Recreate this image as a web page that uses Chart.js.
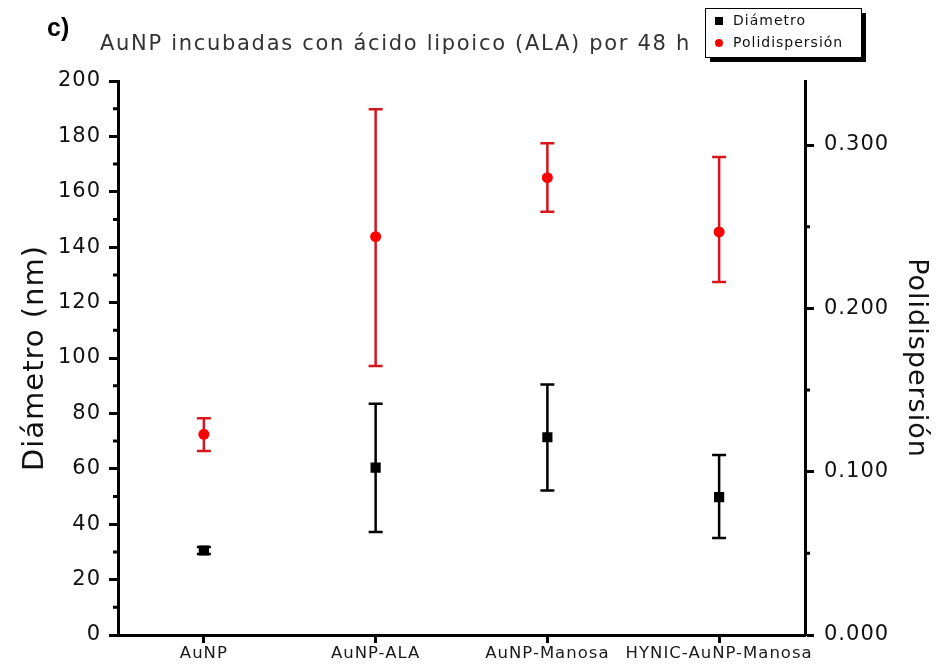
<!DOCTYPE html>
<html><head><meta charset="utf-8">
<script src="https://cdn.jsdelivr.net/npm/chart.js@4/dist/chart.umd.min.js"></script>
<style>html,body{margin:0;padding:0;background:#fff}#wrap{width:936px;height:665px;position:relative}</style>
</head><body><div id="wrap"><canvas id="c" width="936" height="665"></canvas></div>
<script>
const categories = ['AuNP', 'AuNP-ALA', 'AuNP-Manosa', 'HYNIC-AuNP-Manosa'];
const diamMean = [30.5, 60.4, 71.4, 49.8];
const diamLow  = [29.2, 37.2, 52.2, 35.0];
const diamHigh = [31.8, 83.5, 90.4, 65.0];
const polyMean = [0.1229, 0.2439, 0.2800, 0.2468];
const polyLow  = [0.1127, 0.1647, 0.2592, 0.2162];
const polyHigh = [0.1327, 0.3219, 0.3011, 0.2927];
const leftTicks = [0, 20, 40, 60, 80, 100, 120, 140, 160, 180, 200];
const leftMinor = [10, 30, 50, 70, 90, 110, 130, 150, 170, 190];
const rightTicks = [0.0, 0.1, 0.2, 0.3];
const rightMinor = [0.05, 0.15, 0.25];
const rightMax = 0.3392;
const titleText = 'AuNP incubadas con ácido lipoico (ALA) por 48 h';
const panelLabel = 'c)';
const leftTitle = 'Diámetro (nm)';
const rightTitle = 'Polidispersión';

const FONT = "'DejaVu Sans', Verdana, sans-serif";

const spacing = {
  id: 'spacing',
  beforeDraw(chart) { chart.ctx.letterSpacing = '1px'; }
};

const errorBars = {
  id: 'errorBars',
  beforeDatasetsDraw(chart) {
    const ctx = chart.ctx;
    const sets = [
      {meta: chart.getDatasetMeta(0), lo: diamLow, hi: diamHigh, scale: chart.scales.y, color: '#000000'},
      {meta: chart.getDatasetMeta(1), lo: polyLow, hi: polyHigh, scale: chart.scales.y1, color: '#d8141c'}
    ];
    ctx.save();
    sets.forEach(s => {
      s.meta.data.forEach((pt, i) => {
        const x = pt.x;
        const yl = s.scale.getPixelForValue(s.lo[i]);
        const yh = s.scale.getPixelForValue(s.hi[i]);
        ctx.strokeStyle = s.color;
        ctx.lineWidth = 2.5;
        ctx.beginPath();
        ctx.moveTo(x, yl); ctx.lineTo(x, yh);
        ctx.moveTo(x - 7, yl); ctx.lineTo(x + 7, yl);
        ctx.moveTo(x - 7, yh); ctx.lineTo(x + 7, yh);
        ctx.stroke();
      });
    });
    ctx.restore();
  }
};

const minorTicks = {
  id: 'minorTicks',
  afterDraw(chart) {
    const ctx = chart.ctx;
    const a = chart.chartArea;
    ctx.save();
    ctx.strokeStyle = '#000';
    ctx.lineWidth = 3;
    ctx.beginPath();
    leftMinor.forEach(v => {
      const y = chart.scales.y.getPixelForValue(v);
      ctx.moveTo(a.left - 5, y); ctx.lineTo(a.left, y);
    });
    rightMinor.forEach(v => {
      const y = chart.scales.y1.getPixelForValue(v);
      ctx.moveTo(a.right, y); ctx.lineTo(a.right + 5, y);
    });
    ctx.stroke();
    ctx.restore();
  }
};

const decorations = {
  id: 'decorations',
  afterDraw(chart) {
    const ctx = chart.ctx;
    ctx.save();
    ctx.letterSpacing = '0px';
    ctx.fillStyle = '#000';
    ctx.font = "bold 25px 'Liberation Sans', Arial, sans-serif";
    ctx.textBaseline = 'middle';
    ctx.textAlign = 'left';
    ctx.fillText(panelLabel, 47, 29);
    ctx.fillStyle = '#333';
    ctx.font = "21px " + FONT;
    ctx.letterSpacing = '1.7px';
    ctx.fillText(titleText, 100, 45);
    const bx = 705, by = 8, bw = 156, bh = 49;
    ctx.fillStyle = '#000';
    ctx.fillRect(bx + 5, by + 5, bw, bh);
    ctx.fillStyle = '#fff';
    ctx.fillRect(bx, by, bw, bh);
    ctx.strokeStyle = '#000';
    ctx.lineWidth = 1;
    ctx.strokeRect(bx + 0.5, by + 0.5, bw, bh);
    const items = chart.data.datasets;
    ctx.font = "14px " + FONT;
    ctx.letterSpacing = '1px';
    items.forEach((ds, i) => {
      const yy = by + 13 + i * 22;
      ctx.fillStyle = ds.pointBackgroundColor;
      if (ds.pointStyle === 'rect') {
        ctx.fillRect(bx + 10, yy - 4, 8, 8);
      } else {
        ctx.beginPath(); ctx.arc(bx + 14, yy, 4, 0, Math.PI * 2); ctx.fill();
      }
      ctx.fillStyle = '#111';
      ctx.fillText(ds.label, bx + 28, yy);
    });
    ctx.restore();
  }
};

new Chart(document.getElementById('c'), {
  type: 'line',
  data: {
    labels: categories,
    datasets: [
      {label: 'Diámetro', data: diamMean, yAxisID: 'y', showLine: false,
       pointStyle: 'rect', pointRadius: 7.2, pointHoverRadius: 7.2,
       pointBackgroundColor: '#000000', pointBorderColor: '#000000', pointBorderWidth: 0},
      {label: 'Polidispersión', data: polyMean, yAxisID: 'y1', showLine: false,
       pointStyle: 'circle', pointRadius: 5.5, pointHoverRadius: 5.5,
       pointBackgroundColor: '#ff0000', pointBorderColor: '#ff0000', pointBorderWidth: 0}
    ]
  },
  options: {
    responsive: false,
    animation: false,
    devicePixelRatio: 1,
    layout: {padding: {top: 81, left: 0, right: 0, bottom: 0}},
    plugins: {legend: {display: false}, tooltip: {enabled: false}, title: {display: false}},
    scales: {
      x: {
        type: 'category', offset: true,
        grid: {display: true, drawOnChartArea: false, drawTicks: true, tickLength: 8, tickWidth: 3, tickColor: '#000', offset: false},
        border: {display: true, color: '#000', width: 3},
        ticks: {color: '#1a1a1a', font: {family: FONT, size: 16.5}, padding: 1, maxRotation: 0, autoSkip: false},
        afterFit(s) { s.height = 30; }
      },
      y: {
        position: 'left', min: 0, max: 200,
        afterBuildTicks(s) { s.ticks = leftTicks.map(v => ({value: v})); },
        grid: {display: true, drawOnChartArea: false, drawTicks: true, tickLength: 9, tickWidth: 3, tickColor: '#000'},
        border: {display: true, color: '#000', width: 3},
        ticks: {color: '#111', font: {family: FONT, size: 21}, padding: 8},
        title: {display: true, text: leftTitle, color: '#111', font: {family: FONT, size: 29}, padding: {top: 18, bottom: 0}},
        afterFit(s) { s.width = 118; }
      },
      y1: {
        position: 'right', min: 0, max: rightMax,
        afterBuildTicks(s) { s.ticks = rightTicks.map(v => ({value: v})); },
        grid: {display: true, drawOnChartArea: false, drawTicks: true, tickLength: 9, tickWidth: 3, tickColor: '#000'},
        border: {display: true, color: '#000', width: 3},
        ticks: {color: '#111', font: {family: FONT, size: 21}, padding: 10, callback: v => Number(v).toFixed(3)},
        title: {display: true, text: rightTitle, color: '#111', font: {family: FONT, size: 27}, padding: {top: 4, bottom: 0}},
        afterFit(s) { s.width = 131; }
      }
    }
  },
  plugins: [spacing, errorBars, minorTicks, decorations]
});
</script></body></html>
